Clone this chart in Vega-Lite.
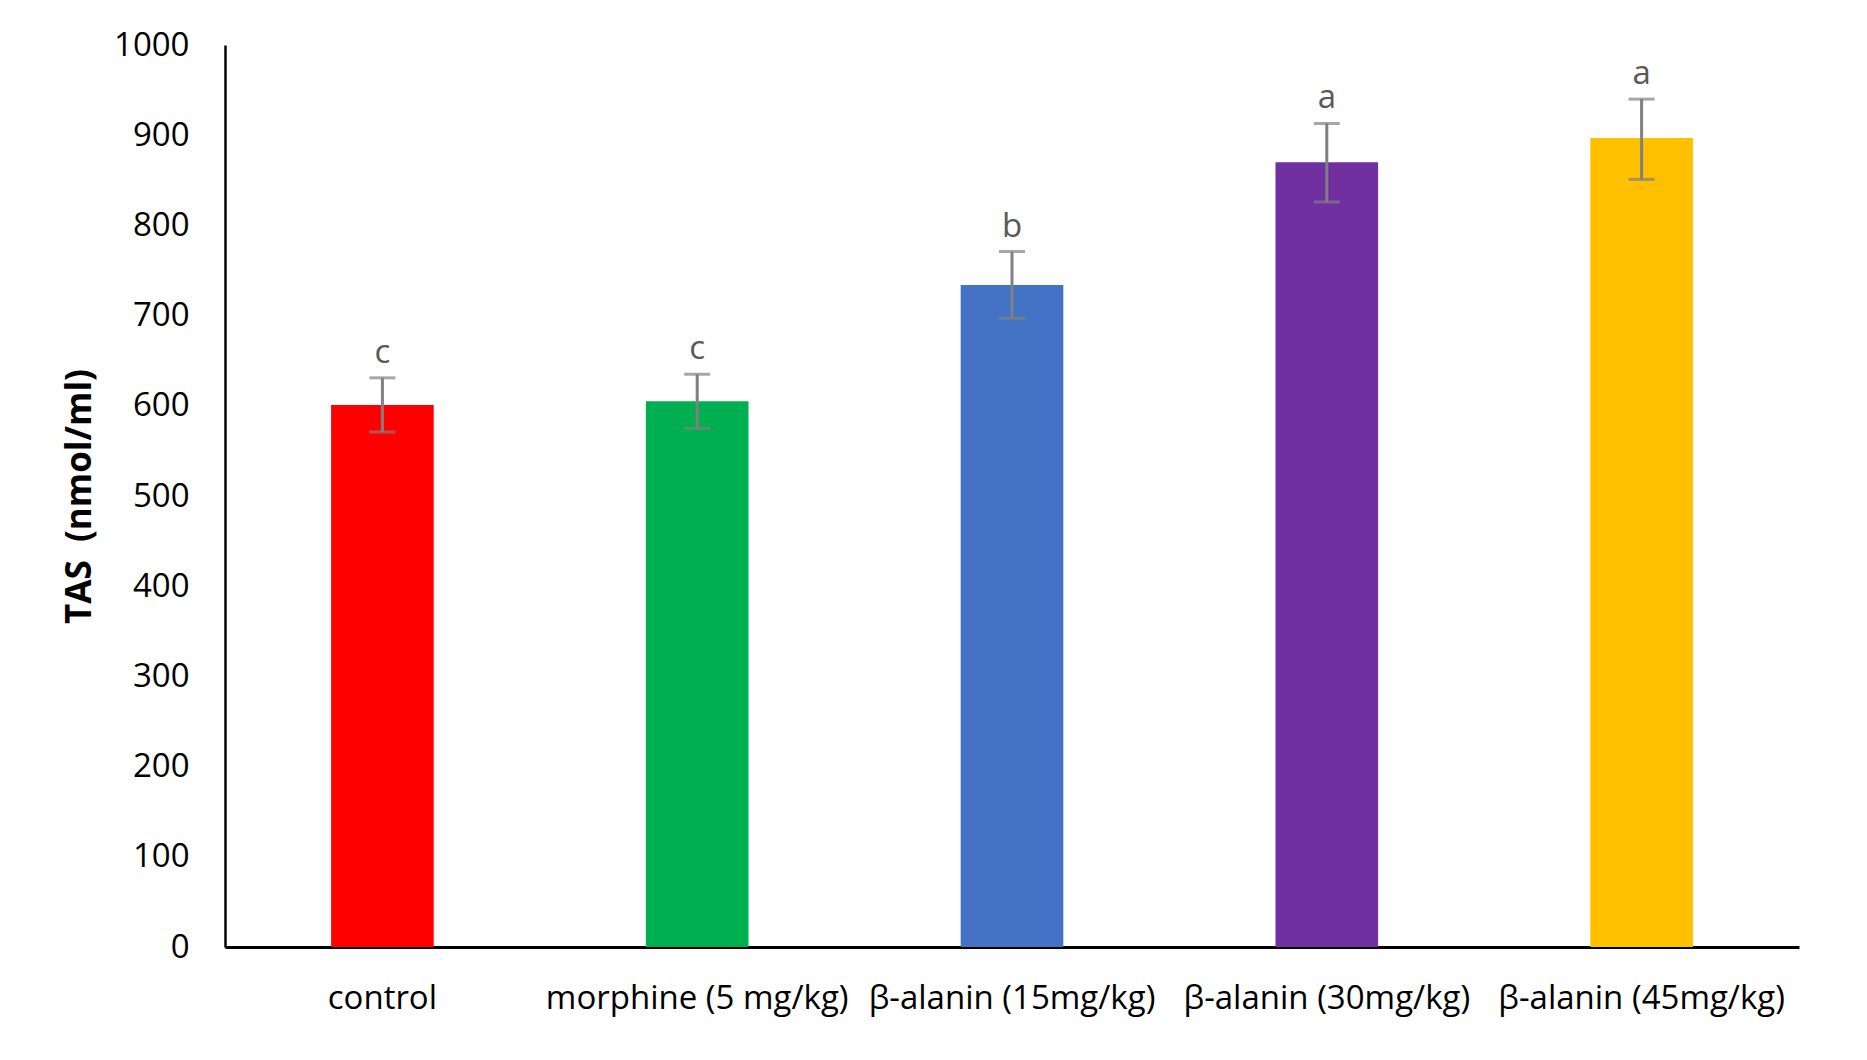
{
  "$schema": "https://vega.github.io/schema/vega-lite/v6.json",
  "autosize": {"type": "none"},
  "padding": {"left": 225, "top": 45, "right": 68, "bottom": 113},
  "width": 1574,
  "height": 902,
  "background": "white",
  "config": {
    "view": {"stroke": null},
    "font": "Open Sans",
    "axis": {"labelFont": "Open Sans", "titleFont": "Open Sans", "labelColor": "black", "titleColor": "black"}
  },
  "data": {
    "values": [
      {"group": "control", "TAS": 601, "lo": 571, "hi": 631, "sig": "c"},
      {"group": "morphine (5 mg/kg)", "TAS": 605, "lo": 575, "hi": 635, "sig": "c"},
      {"group": "β-alanin (15mg/kg)", "TAS": 734, "lo": 697, "hi": 771, "sig": "b"},
      {"group": "β-alanin (30mg/kg)", "TAS": 870, "lo": 826, "hi": 913, "sig": "a"},
      {"group": "β-alanin (45mg/kg)", "TAS": 897, "lo": 851, "hi": 940, "sig": "a"}
    ]
  },
  "encoding": {
    "x": {
      "field": "group",
      "type": "nominal",
      "sort": null,
      "scale": {"paddingInner": 0.674, "paddingOuter": 0.337},
      "axis": {
        "title": null,
        "labelAngle": 0,
        "labelFontSize": 33,
        "labelPadding": 35,
        "labelLimit": 0,
        "ticks": false,
        "domainColor": "black",
        "domainWidth": 3
      }
    }
  },
  "layer": [
    {
      "mark": {"type": "bar"},
      "encoding": {
        "y": {
          "field": "TAS",
          "type": "quantitative",
          "scale": {"domain": [0, 1000], "nice": false},
          "axis": {
            "title": "TAS\u00a0\u00a0(nmol/ml)",
            "titleFontSize": 35,
            "titleFontWeight": "bold",
            "titlePadding": 16,
            "format": "d",
            "values": [0, 100, 200, 300, 400, 500, 600, 700, 800, 900, 1000],
            "labelFontSize": 33,
            "labelPadding": 36,
            "ticks": false,
            "grid": false,
            "domainColor": "black",
            "domainWidth": 2.5
          }
        },
        "color": {
          "field": "group",
          "type": "nominal",
          "sort": null,
          "legend": null,
          "scale": {
            "domain": ["control", "morphine (5 mg/kg)", "β-alanin (15mg/kg)", "β-alanin (30mg/kg)", "β-alanin (45mg/kg)"],
            "range": ["#FF0000", "#00B050", "#4472C4", "#7030A0", "#FFC000"]
          }
        }
      }
    },
    {
      "mark": {"type": "rule", "color": "#808080", "strokeWidth": 3},
      "encoding": {
        "y": {"field": "lo", "type": "quantitative"},
        "y2": {"field": "hi"}
      }
    },
    {
      "mark": {"type": "tick", "color": "#808080", "size": 26, "thickness": 3},
      "encoding": {"y": {"field": "lo", "type": "quantitative"}}
    },
    {
      "mark": {"type": "tick", "color": "#808080", "size": 26, "thickness": 3},
      "encoding": {"y": {"field": "hi", "type": "quantitative"}}
    },
    {
      "mark": {"type": "text", "color": "#595959", "fontSize": 33, "baseline": "alphabetic", "dy": -15},
      "encoding": {
        "y": {"field": "hi", "type": "quantitative"},
        "text": {"field": "sig"}
      }
    }
  ]
}
